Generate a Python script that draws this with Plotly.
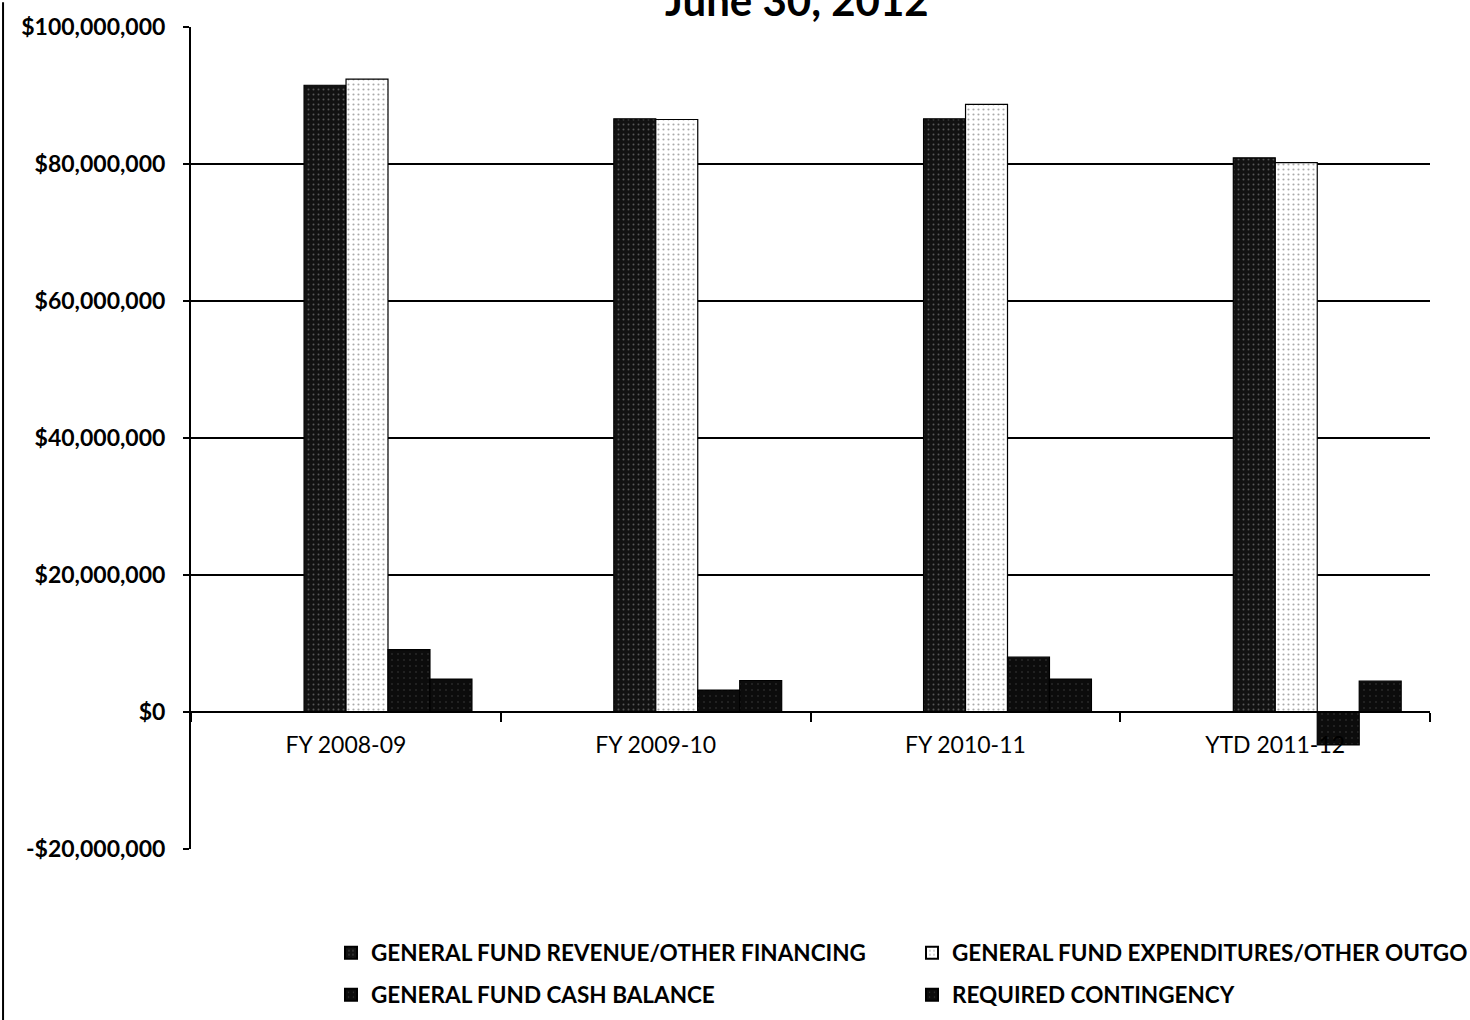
import plotly.graph_objects as go

# Fiscal periods and fund amounts (US dollars)
categories = ["FY 2008-09", "FY 2009-10", "FY 2010-11", "YTD 2011-12"]
revenue = [91_500_000, 86_600_000, 86_600_000, 80_900_000]
expenditures = [92_400_000, 86_500_000, 88_700_000, 80_200_000]
cash_balance = [9_100_000, 3_200_000, 8_000_000, -4_800_000]
contingency = [4_800_000, 4_600_000, 4_800_000, 4_500_000]

series_names = [
    "GENERAL FUND REVENUE/OTHER FINANCING",
    "GENERAL FUND EXPENDITURES/OTHER OUTGO",
    "GENERAL FUND CASH BALANCE",
    "REQUIRED CONTINGENCY",
]
y_ticks = [-20_000_000, 0, 20_000_000, 40_000_000, 60_000_000, 80_000_000, 100_000_000]
y_tick_text = ["-$20,000,000", "$0", "$20,000,000", "$40,000,000",
               "$60,000,000", "$80,000,000", "$100,000,000"]

FONT = "Lato"
BAR_W = 0.1355
FIRST_OFFSET = -0.135
W, H = 1470, 1020

styles = [
    dict(color="#121212", pattern=dict(shape=".", fgcolor="#9a9a9a", size=5, solidity=0.12)),
    dict(color="#ffffff", pattern=dict(shape=".", fgcolor="#555555", size=5, solidity=0.15)),
    dict(color="#0c0c0c", pattern=dict(shape=".", fgcolor="#6a6a6a", size=6, solidity=0.06)),
    dict(color="#0c0c0c", pattern=dict(shape=".", fgcolor="#6a6a6a", size=6, solidity=0.06)),
]

# one legend box per series, laid out as a 2 x 2 grid under the plot
legend_ids = ["legend", "legend2", "legend3", "legend4"]
col_x = [331 / W, 912 / W]
row_y = [1 - 953 / H, 1 - 995 / H]
legend_pos = [(col_x[0], row_y[0]), (col_x[1], row_y[0]),
              (col_x[0], row_y[1]), (col_x[1], row_y[1])]

fig = go.Figure()
for i, (name, vals) in enumerate(zip(series_names, [revenue, expenditures, cash_balance, contingency])):
    st = styles[i]
    fig.add_trace(go.Bar(
        x=categories, y=vals, name=name, legend=legend_ids[i],
        width=BAR_W, offset=FIRST_OFFSET + i * BAR_W,
        marker=dict(color=st["color"], pattern=st["pattern"],
                    line=dict(color="#000000", width=1.2)),
    ))

legend_common = dict(
    orientation="h", xanchor="left", yanchor="middle",
    xref="container", yref="container",
    font=dict(family=FONT, size=22.5, color="#000000", weight="bold"),
    itemsizing="constant", bgcolor="rgba(0,0,0,0)",
)
legend_layout = {
    lid: dict(legend_common, x=px, y=py)
    for lid, (px, py) in zip(legend_ids, legend_pos)
}

fig.update_layout(
    width=W, height=H,
    margin=dict(l=191, r=40, t=20, b=171),
    paper_bgcolor="white", plot_bgcolor="white",
    barmode="overlay",
    font=dict(family=FONT, color="#000000"),
    showlegend=True,
    **legend_layout,
    xaxis=dict(
        type="category", range=[-0.5, 3.5],
        anchor="free", position=1 / 6,
        showline=True, linecolor="#000000", linewidth=2,
        ticks="outside", tickson="boundaries", ticklen=9, tickwidth=2, tickcolor="#000000",
        showgrid=False, zeroline=False,
        tickfont=dict(family=FONT, size=23, color="#000000"),
        ticklabelstandoff=12,
    ),
    yaxis=dict(
        range=[-20_000_000, 100_000_000],
        tickvals=y_ticks, ticktext=y_tick_text,
        showline=True, linecolor="#000000", linewidth=2,
        showgrid=True, gridcolor="#000000", gridwidth=1.5,
        zeroline=False,
        ticks="outside", ticklen=6, tickwidth=1.5, tickcolor="#000000",
        tickfont=dict(family=FONT, size=23, color="#000000", weight="bold"),
        ticklabelstandoff=13,
    ),
)

# Chart heading (partly above the top edge of the page)
fig.add_annotation(
    text="<b>June 30, 2012</b>", xref="paper", yref="paper",
    x=0.489, y=1.0, xanchor="center", yanchor="bottom",
    showarrow=False, font=dict(family=FONT, size=42, color="#000000"),
)

# Outer frame line on the left
fig.add_shape(type="line", xref="paper", yref="paper",
              x0=-0.1517, x1=-0.1517, y0=-0.21, y1=1.03,
              line=dict(color="#000000", width=2))

fig.write_html("out.html")
